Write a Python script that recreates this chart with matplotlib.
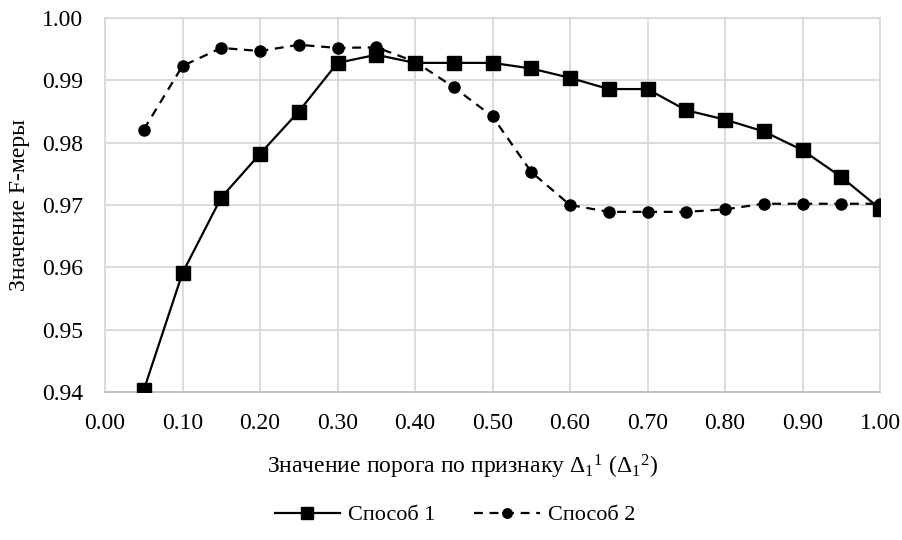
import matplotlib
matplotlib.use("Agg")
import matplotlib.pyplot as plt
from matplotlib.ticker import FixedLocator, FormatStrFormatter

plt.rcParams['font.family'] = ['Liberation Serif', 'DejaVu Serif']
plt.rcParams['mathtext.fontset'] = 'custom'
plt.rcParams['mathtext.rm'] = 'Liberation Serif'
plt.rcParams['mathtext.it'] = 'Liberation Serif:italic'
plt.rcParams['mathtext.bf'] = 'Liberation Serif:bold'

thresholds = [0.05, 0.10, 0.15, 0.20, 0.25, 0.30, 0.35, 0.40, 0.45, 0.50,
              0.55, 0.60, 0.65, 0.70, 0.75, 0.80, 0.85, 0.90, 0.95, 1.00]
method1 = [0.9403, 0.9591, 0.9712, 0.9782, 0.9850, 0.9928, 0.9941, 0.9928, 0.9928, 0.9928,
           0.9919, 0.9904, 0.9886, 0.9886, 0.9852, 0.9837, 0.9818, 0.9788, 0.9745, 0.9694]
method2 = [0.9821, 0.9923, 0.9952, 0.9947, 0.9957, 0.9952, 0.9953, 0.9930, 0.9889, 0.9842,
           0.9753, 0.9700, 0.9689, 0.9689, 0.9689, 0.9693, 0.9702, 0.9702, 0.9702, 0.9702]
series_names = ['Способ 1', 'Способ 2']
x_ticks = [0.0, 0.1, 0.2, 0.3, 0.4, 0.5, 0.6, 0.7, 0.8, 0.9, 1.0]
y_ticks = [0.94, 0.95, 0.96, 0.97, 0.98, 0.99, 1.00]

W, H = 902, 540
fig = plt.figure(figsize=(W/100, H/100), dpi=100)
ax = fig.add_axes([105/W, 1-392/H, (880-105)/W, (392-18)/H])

grid_c = '#d9d9d9'
ax.plot(thresholds, method1, color='black', linestyle='-', linewidth=1.6,
        marker='s', markersize=9.5, label=series_names[0], zorder=3)
ax.plot(thresholds, method2, color='black', linestyle=(0, (4, 3)), linewidth=1.6,
        marker='o', markersize=8, label=series_names[1], zorder=3)

ax.set_xlim(0, 1.0)
ax.set_ylim(0.94, 1.00)
ax.xaxis.set_major_locator(FixedLocator(x_ticks))
ax.yaxis.set_major_locator(FixedLocator(y_ticks))
ax.xaxis.set_major_formatter(FormatStrFormatter('%.2f'))
ax.yaxis.set_major_formatter(FormatStrFormatter('%.2f'))
ax.grid(True, color=grid_c, linewidth=1.3, zorder=0)
ax.set_axisbelow(True)
for s in ax.spines.values():
    s.set_color(grid_c)
    s.set_linewidth(1.3)
ax.spines['bottom'].set_color('#bfbfbf')
ax.tick_params(length=0, labelsize=17, colors='black', pad=15)
ax.tick_params(axis='y', pad=16)

fig.text(463/W, 1-467/H, r'Значение порога по признаку $\Delta_1{}^1$ ($\Delta_1{}^2$)',
         fontsize=17, ha='center', va='center')
fig.text(20/W, 1-205/H, 'Значение F-меры', fontsize=17, rotation=90,
         ha='center', va='center')

leg = fig.legend(loc='center', bbox_to_anchor=(455/W, 1-515/H), ncol=2, frameon=False,
                 fontsize=16, handlelength=2.95, columnspacing=1.75, handletextpad=0.36,
                 markerscale=0.85)

fig.savefig('out.png', dpi=100)
